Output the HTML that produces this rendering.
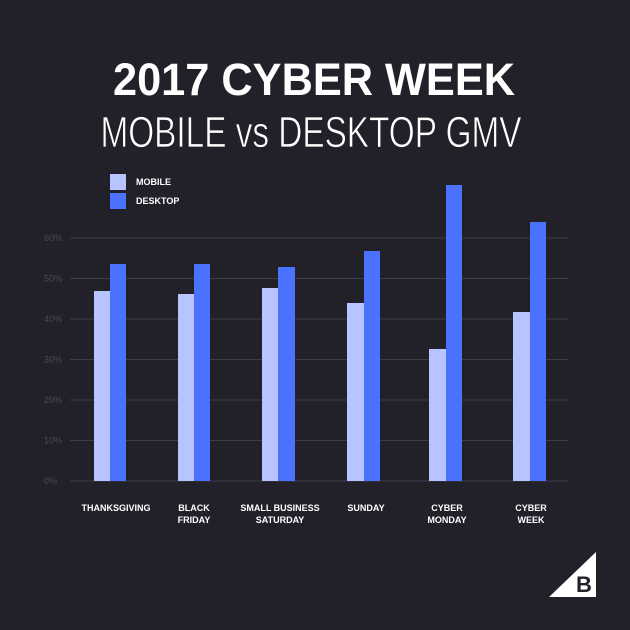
<!DOCTYPE html>
<html><head><meta charset="utf-8"><style>
html,body{margin:0;padding:0;background:#22212a;}
svg{display:block;}
</style></head><body>
<svg width="630" height="630" viewBox="0 0 630 630" xmlns="http://www.w3.org/2000/svg">
<rect width="630" height="630" fill="#22212a"/>
<text x="314" y="95" text-anchor="middle" font-family="Liberation Sans, sans-serif" font-weight="bold" font-size="45" fill="#fff" textLength="402" lengthAdjust="spacingAndGlyphs">2017 CYBER WEEK</text>
<text x="311" y="147" text-anchor="middle" font-family="Liberation Sans, sans-serif" font-size="44" fill="#fff" textLength="421" lengthAdjust="spacingAndGlyphs" stroke="#22212a" stroke-width="0.8">MOBILE vs DESKTOP GMV</text>
<rect x="110" y="174" width="16" height="16" fill="#b8c4ff"/>
<rect x="110" y="193" width="16" height="16" fill="#4a72ff"/>
<g font-family="Liberation Sans, sans-serif" font-weight="bold" font-size="9" fill="#fff">
<text x="136" y="185">MOBILE</text>
<text x="136" y="204">DESKTOP</text>
</g>
<g stroke="#3d3c46" stroke-width="1">
<line x1="70" y1="238" x2="568" y2="238"/>
<line x1="70" y1="278.5" x2="568" y2="278.5"/>
<line x1="70" y1="319" x2="568" y2="319"/>
<line x1="70" y1="359.5" x2="568" y2="359.5"/>
<line x1="70" y1="400" x2="568" y2="400"/>
<line x1="70" y1="440.5" x2="568" y2="440.5"/>
<line x1="70" y1="481" x2="568" y2="481"/>
</g>
<g font-family="Liberation Sans, sans-serif" font-size="9" fill="#4a4956">
<text x="44" y="241">60%</text>
<text x="44" y="281.5">50%</text>
<text x="44" y="322">40%</text>
<text x="44" y="362.5">30%</text>
<text x="44" y="403">20%</text>
<text x="44" y="443.5">10%</text>
<text x="44" y="484">0%</text>
</g>
<g fill="#b8c4ff">
<rect x="94" y="291" width="16" height="190"/>
<rect x="178" y="294" width="16" height="187"/>
<rect x="262" y="288" width="16" height="193"/>
<rect x="347" y="303" width="17" height="178"/>
<rect x="429" y="349" width="17" height="132"/>
<rect x="513" y="312" width="17" height="169"/>
</g>
<g fill="#4a72ff">
<rect x="110" y="264" width="16" height="217"/>
<rect x="194" y="264" width="16" height="217"/>
<rect x="278" y="267" width="17" height="214"/>
<rect x="364" y="251" width="16" height="230"/>
<rect x="446" y="185" width="16" height="296"/>
<rect x="530" y="222" width="16" height="259"/>
</g>
<g font-family="Liberation Sans, sans-serif" font-weight="bold" font-size="9" fill="#fff" text-anchor="middle">
<text x="116" y="511">THANKSGIVING</text>
<text x="194" y="511">BLACK</text><text x="194" y="523">FRIDAY</text>
<text x="280" y="511">SMALL BUSINESS</text><text x="280" y="523">SATURDAY</text>
<text x="366" y="511">SUNDAY</text>
<text x="447" y="511">CYBER</text><text x="447" y="523">MONDAY</text>
<text x="531" y="511">CYBER</text><text x="531" y="523">WEEK</text>
</g>
<polygon points="549,597 596,597 596,552" fill="#fff"/>
<text x="584" y="592" text-anchor="middle" font-family="Liberation Sans, sans-serif" font-weight="bold" font-size="22" fill="#22212a">B</text>
</svg>
</body></html>
